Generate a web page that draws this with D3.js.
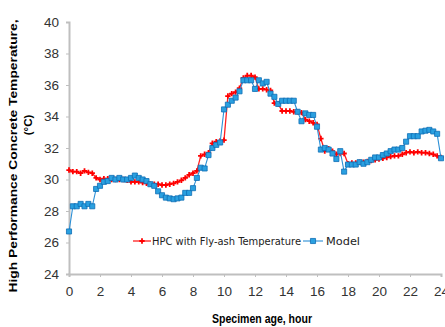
<!DOCTYPE html>
<html>
<head>
<meta charset="utf-8">
<script src="https://cdn.jsdelivr.net/npm/d3@7"></script>
<style>
    body { margin: 0; background: #fff; }
    svg { display: block; }
</style>
</head>
<body>
<svg id="chart" width="445" height="327"></svg>
<script>
// specimen age, hours (readings every quarter hour)
const hours = [
    0, 0.25, 0.5, 0.75, 1, 1.25, 1.5, 1.75, 2, 2.25, 2.5, 2.75,
    3, 3.25, 3.5, 3.75, 4, 4.25, 4.5, 4.75, 5, 5.25, 5.5, 5.75,
    6, 6.25, 6.5, 6.75, 7, 7.25, 7.5, 7.75, 8, 8.25, 8.5, 8.75,
    9, 9.25, 9.5, 9.75, 10, 10.25, 10.5, 10.75, 11, 11.25, 11.5, 11.75,
    12, 12.25, 12.5, 12.75, 13, 13.25, 13.5, 13.75, 14, 14.25, 14.5, 14.75,
    15, 15.25, 15.5, 15.75, 16, 16.25, 16.5, 16.75, 17, 17.25, 17.5, 17.75,
    18, 18.25, 18.5, 18.75, 19, 19.25, 19.5, 19.75, 20, 20.25, 20.5, 20.75,
    21, 21.25, 21.5, 21.75, 22, 22.25, 22.5, 22.75, 23, 23.25, 23.5, 23.75, 24
];

const measured = [
    30.6, 30.5, 30.5, 30.4, 30.55, 30.45, 30.4, 30.1, 30.0, 30.05, 30.05, 30.0,
    30.0, 30.0, 30.0, 29.95, 29.85, 29.85, 29.85, 29.8, 29.75, 29.7, 29.7, 29.7,
    29.65, 29.65, 29.7, 29.75, 29.85, 29.95, 30.1, 30.3, 30.4, 30.55, 31.5, 31.6,
    31.7, 32.3, 32.4, 32.45, 32.5, 35.3, 35.45, 35.55, 35.8, 36.45, 36.6, 36.6,
    36.5, 35.75, 35.75, 35.7, 35.65, 34.85, 34.8, 34.35, 34.35, 34.35, 34.3, 34.3,
    34.25, 33.8, 33.7, 33.6, 33.5, 32.6, 31.8, 31.95, 31.8, 31.6, 31.65, 31.65,
    31.0, 31.05, 31.05, 31.1, 31.1, 31.15, 31.2, 31.25, 31.3, 31.35, 31.4, 31.45,
    31.5, 31.5, 31.6, 31.7, 31.75, 31.7, 31.75, 31.7, 31.7, 31.65, 31.6, 31.5, 31.4
];

const model = [
    26.7, 28.3, 28.3, 28.45, 28.3, 28.45, 28.3, 29.4, 29.6, 29.85, 29.9, 30.1,
    30.0, 30.1, 30.0, 30.0, 30.1, 30.25, 30.1, 30.0, 29.9, 29.7, 29.6, 29.25,
    29.0, 28.85, 28.8, 28.75, 28.8, 28.85, 29.15, 29.15, 29.45, 30.1, 30.75, 30.7,
    31.55, 32.0, 32.2, 32.35, 34.45, 34.75, 35.0, 35.2, 35.6, 36.3, 36.3, 36.3,
    35.75, 36.3, 36.1, 36.2, 35.45, 35.25, 34.8, 35.0, 35.0, 35.0, 35.0, 34.3,
    33.7, 34.2, 34.1, 34.1, 33.35, 31.9, 32.0, 31.9, 31.65, 31.3, 31.8, 30.5,
    30.95, 30.95, 30.95, 31.1, 31.0, 31.1, 31.25, 31.4, 31.4, 31.55, 31.65, 31.8,
    31.9, 31.9, 32.0, 32.4, 32.75, 32.75, 32.75, 33.05, 33.1, 33.15, 33.05, 32.9, 31.35
];

const xTicks = [0, 2, 4, 6, 8, 10, 12, 14, 16, 18, 20, 22, 24];
const yTicks = [24, 26, 28, 30, 32, 34, 36, 38, 40];

const seriesNames = ["HPC with Fly-ash Temperature", "Model"];

const margin = { top: 22, right: 4, bottom: 53, left: 69 };
const width = 445, height = 327;

const svg = d3.select("#chart");

const x = d3.scaleLinear().domain([0, 24]).range([margin.left, width - margin.right]);
const y = d3.scaleLinear().domain([24, 40]).range([height - margin.bottom, margin.top]);

const axisColor = "#bfbfbf";
const tickFont = "'Liberation Sans Narrow', 'Liberation Sans', sans-serif";

// x axis
const xAxis = svg.append("g")
    .attr("transform", `translate(0,${y(24)})`)
    .call(d3.axisBottom(x).tickValues(xTicks).tickSize(3).tickPadding(9).tickFormat(d3.format("d")));
xAxis.select(".domain").attr("stroke", axisColor).attr("stroke-width", 2);
xAxis.selectAll(".tick line").attr("stroke", axisColor);
xAxis.selectAll("text")
    .attr("font-family", tickFont)
    .attr("font-size", 13.5)
    .attr("fill", "#333");

// y axis
const yAxis = svg.append("g")
    .attr("transform", `translate(${x(0)},0)`)
    .call(d3.axisLeft(y).tickValues(yTicks).tickSize(3).tickPadding(7).tickFormat(d3.format("d")));
yAxis.select(".domain").attr("stroke", axisColor).attr("stroke-width", 2);
yAxis.selectAll(".tick line").attr("stroke", axisColor);
yAxis.selectAll("text")
    .attr("font-family", tickFont)
    .attr("font-size", 13.5)
    .attr("fill", "#333");

// series
const redData = hours.map((h, i) => ({ h: h, v: measured[i] }));
const blueData = hours.map((h, i) => ({ h: h, v: model[i] }));

const line = d3.line().x(d => x(d.h)).y(d => y(d.v));

const crossSym = d3.symbol().type(d3.symbolCross).size(16);
const squareSym = d3.symbol().type(d3.symbolSquare).size(26);

svg.append("path")
    .datum(redData)
    .attr("fill", "none")
    .attr("stroke", "#ff2020")
    .attr("stroke-width", 1.3)
    .attr("d", line);

svg.append("g")
    .selectAll("path")
    .data(redData)
    .join("path")
    .attr("transform", d => `translate(${x(d.h)},${y(d.v)})`)
    .attr("d", crossSym)
    .attr("fill", "#ff0000");

svg.append("path")
    .datum(blueData)
    .attr("fill", "none")
    .attr("stroke", "#2b8fd6")
    .attr("stroke-width", 1.1)
    .attr("d", line);

svg.append("g")
    .selectAll("path")
    .data(blueData)
    .join("path")
    .attr("transform", d => `translate(${x(d.h)},${y(d.v)})`)
    .attr("d", squareSym)
    .attr("fill", "#2aa0e0")
    .attr("stroke", "#0f6fb5")
    .attr("stroke-width", 0.8);

// legend
const legendFont = "'DejaVu Sans', sans-serif";
const lg = svg.append("g");
lg.append("line").attr("x1", 133).attr("x2", 151).attr("y1", 241).attr("y2", 241)
    .attr("stroke", "#ff2020").attr("stroke-width", 1.3);
lg.append("path").attr("transform", "translate(142,241)").attr("d", crossSym).attr("fill", "#ff0000");
lg.append("text").attr("x", 152).attr("y", 245)
    .attr("font-family", legendFont).attr("font-size", 11)
    .attr("textLength", 149).attr("lengthAdjust", "spacingAndGlyphs")
    .attr("fill", "#222")
    .text(seriesNames[0]);

lg.append("line").attr("x1", 303).attr("x2", 323).attr("y1", 241).attr("y2", 241)
    .attr("stroke", "#2b8fd6").attr("stroke-width", 1.1);
lg.append("path").attr("transform", "translate(313,241)").attr("d", squareSym)
    .attr("fill", "#2aa0e0").attr("stroke", "#0f6fb5").attr("stroke-width", 0.8);
lg.append("text").attr("x", 326).attr("y", 245)
    .attr("font-family", legendFont).attr("font-size", 11)
    .attr("textLength", 34).attr("lengthAdjust", "spacingAndGlyphs")
    .attr("fill", "#222")
    .text(seriesNames[1]);

// axis titles
const titleFont = "'Liberation Sans', Arial, sans-serif";
svg.append("text")
    .attr("transform", "translate(17,156) rotate(-90)")
    .attr("text-anchor", "middle")
    .attr("font-family", titleFont).attr("font-weight", "bold").attr("font-size", 11.5)
    .attr("textLength", 273).attr("lengthAdjust", "spacingAndGlyphs")
    .text("High Performance Concrete Temperature,");

svg.append("text")
    .attr("transform", "translate(32,125) rotate(-90)")
    .attr("text-anchor", "middle")
    .attr("font-family", titleFont).attr("font-weight", "bold").attr("font-size", 11.5)
    .text("(°C)");

svg.append("text")
    .attr("x", 262).attr("y", 323)
    .attr("text-anchor", "middle")
    .attr("font-family", titleFont).attr("font-weight", "bold").attr("font-size", 12)
    .attr("textLength", 100).attr("lengthAdjust", "spacingAndGlyphs")
    .text("Specimen age, hour");
</script>
</body>
</html>
